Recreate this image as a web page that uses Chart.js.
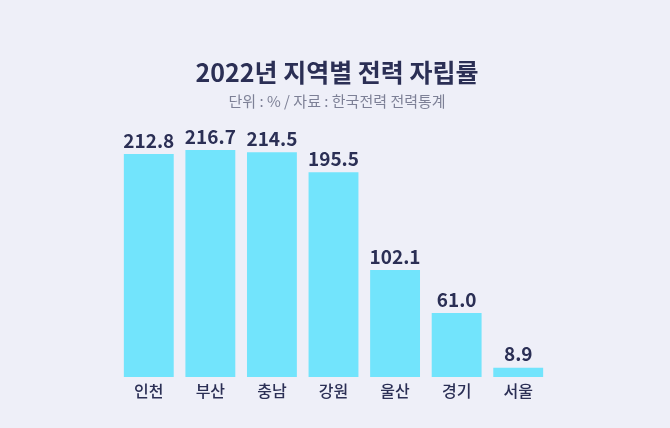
<!DOCTYPE html>
<html>
<head>
<meta charset="utf-8">
<script src="https://cdn.jsdelivr.net/npm/chart.js@4"></script>
<style>
  html, body { margin: 0; padding: 0; background: #eeeff8; }
  #wrap { width: 670px; height: 428px; }
</style>
</head>
<body>
<div id="wrap"><canvas id="c" width="670" height="428"></canvas></div>
<script>
const regions = ['인천', '부산', '충남', '강원', '울산', '경기', '서울'];
const selfSufficiency = [212.8, 216.7, 214.5, 195.5, 102.1, 61.0, 8.9];
const titleText = '2022년 지역별 전력 자립률';
const subtitleText = '단위 : % / 자료 : 한국전력 전력통계';

const FONT = '"Noto Sans CJK KR", "Noto Sans", sans-serif';

// titles, value labels and category labels
const textPlugin = {
    id: 'texts',
    afterDatasetsDraw(chart) {
        const ctx = chart.ctx;
        const x = chart.scales.x, y = chart.scales.y;
        ctx.save();
        ctx.textAlign = 'center';
        ctx.fillStyle = '#2b2f55';
        ctx.font = '600 25px ' + FONT;
        ctx.textBaseline = 'middle';
        ctx.fillText(titleText, 337, 72);
        ctx.fillStyle = '#7d8096';
        ctx.font = '400 15px ' + FONT;
        ctx.fillText(subtitleText, 337, 101);

        selfSufficiency.forEach((v, i) => {
            const px = x.getPixelForValue(i);
            ctx.fillStyle = '#2b2f55';
            ctx.font = '700 19px ' + FONT;
            ctx.textBaseline = 'bottom';
            ctx.fillText(v.toFixed(1), px, y.getPixelForValue(v) - 4);
            ctx.fillStyle = '#2b2f55';
            ctx.font = '500 16px ' + FONT;
            ctx.textBaseline = 'middle';
            ctx.fillText(regions[i], px, 391);
        });
        ctx.restore();
    }
};

new Chart(document.getElementById('c'), {
    type: 'bar',
    data: {
        labels: regions,
        datasets: [{
            data: selfSufficiency,
            backgroundColor: '#72e4fc',
            borderWidth: 0,
            barPercentage: 0.81,
            categoryPercentage: 1
        }]
    },
    options: {
        responsive: false,
        animation: false,
        layout: { padding: { top: 130, bottom: 51, left: 118, right: 121 } },
        plugins: { legend: { display: false }, tooltip: { enabled: false } },
        scales: {
            x: { display: false },
            y: { display: false, min: 0, max: 235.8 }
        }
    },
    plugins: [textPlugin]
});
</script>
</body>
</html>
